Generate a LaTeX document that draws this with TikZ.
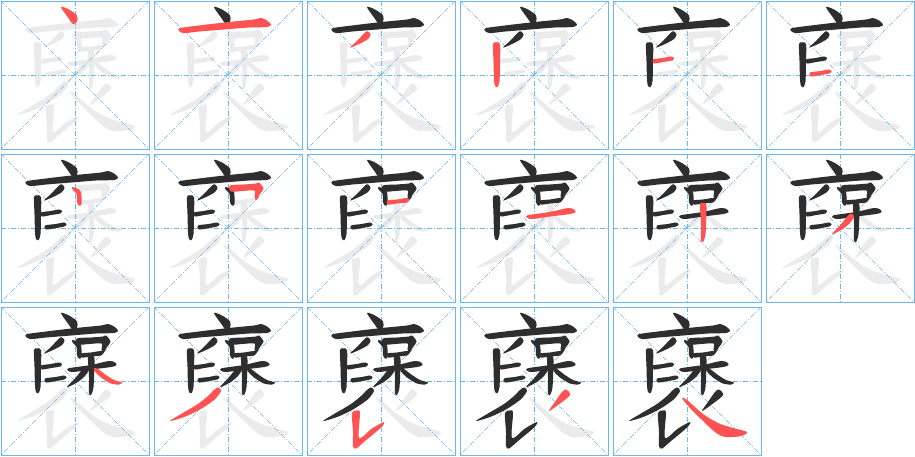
\documentclass[tikz,border=0pt]{standalone}

\definecolor{gridblue}{HTML}{6CB6F2}
\definecolor{inkgray}{HTML}{EBEBEB}
\definecolor{inkdone}{HTML}{2E2E2E}
\definecolor{inknow}{HTML}{FF5252}

\tikzset{
  cellbox/.style={draw=gridblue, line width=0.9pt},
  guideline/.style={draw=gridblue, line width=0.6pt, dash pattern=on 5pt off 2pt on 1pt off 2pt},
}

% one stroke of the character, in cell coordinates (px, y down)
\newcommand{\hanstroke}[2]{%
  \ifcase#1\or
  \fill[#2] plot[smooth cycle] coordinates {(60,6) (68,8.5) (76,14.5) (76,20.5) (72,23) (67,16.5)};\or
  \fill[#2] plot[smooth cycle] coordinates {(25,27.5) (45,24.5) (75,21) (100,18.5) (107,17) (113,19.5) (117,23.5) (113,26) (95,26.5) (70,28.5) (45,30.5) (29,32)};\or
  \fill[#2] plot[smooth cycle] coordinates {(58,31.5) (61,30.5) (63.5,33.5) (61,38) (52,43) (43,46.5) (50,40)};\or
  \fill[#2] plot[smooth cycle] coordinates {(33,43) (36,41.5) (40,43) (40,62) (39.5,80) (37.5,86) (35,85) (34,78) (33.5,60)};\or
  \fill[#2] plot[smooth cycle] coordinates {(40,58.5) (50,57) (58,55.5) (61,57) (59,59.5) (50,61) (41,62.5)};\or
  \fill[#2] plot[smooth cycle] coordinates {(44,71.5) (55,70) (63,68.5) (65.5,70.5) (63,72.5) (55,74) (45,75.5)};\or
  \fill[#2] plot[smooth cycle] coordinates {(71,33) (76,34.5) (80,38) (80.5,50) (78,51.5) (76,48) (75.5,40) (72,36)};\or
  \fill[#2] plot[smooth cycle] coordinates {(76,31.5) (90,30.5) (102,29.5) (105,28.5) (109.5,34.5) (106,40) (102,46.5) (100.5,42) (100.5,36.5) (88,37) (77,37.5)};\or
  \fill[#2] plot[smooth cycle] coordinates {(80,46.5) (90,45.5) (100,44) (102.5,45.5) (100,48.5) (90,49.5) (81,50.5)};\or
  \fill[#2] plot[smooth cycle] coordinates {(67,61.5) (90,58) (108,54) (114,55.5) (115.5,58) (110,60) (90,62.5) (71,65)};\or
  \fill[#2] plot[smooth cycle] coordinates {(87,50) (90,49) (93,49.5) (93.5,56) (92.5,80) (90,88) (88,86) (88,70)};\or
  \fill[#2] plot[smooth cycle] coordinates {(83,60.5) (86,60) (88,62.5) (84,69) (76,75.5) (66,80) (74,71.5)};\or
  \fill[#2] plot[smooth cycle] coordinates {(93,61) (97,62) (105,68) (113,73) (121,75.5) (118,77.5) (110,76.5) (100,70.5) (94,64.5)};\or
  \fill[#2] plot[smooth cycle] coordinates {(60,83) (64,80.5) (67,84) (60,93) (45,103) (30,110) (16,114) (28,106.5) (44,97) (54,89)};\or
  \fill[#2] plot[smooth cycle] coordinates {(45,106) (50,103.5) (53,106) (52,131) (65,121.5) (77,115) (74,120.5) (58,134) (49,141.5) (46,139) (46,125)};\or
  \fill[#2] plot[smooth cycle] coordinates {(102,85) (106,82.5) (110,88) (100,96.5) (89,104) (95,95)};\or
  \fill[#2] plot[smooth cycle] coordinates {(69,91) (74,93) (90,107) (105,116) (120,121) (134,125) (128,129) (112,130) (102,125) (88,112) (76,100)};\fi}

\begin{document}
\begin{tikzpicture}[x=1pt, y=-1pt]
\useasboundingbox (0,0) rectangle (915,456);
\fill[white] (0,0) rectangle (915,456);

\foreach \k in {1,...,17}{
  \pgfmathtruncatemacro{\col}{mod(\k-1,6)}
  \pgfmathtruncatemacro{\row}{(\k-1)/6}
  \begin{scope}[shift={(1+153*\col,1+153*\row)}]
    % whole character in grey first
    \foreach \s in {1,...,17}{\hanstroke{\s}{inkgray}}
    \draw[cellbox] (0,0) rectangle (148,148);
    \draw[guideline] (0,0) -- (148,148) (148,0) -- (0,148);
    \draw[guideline] (74,0) -- (74,148) (0,74) -- (148,74);
    % strokes written so far, the new one in red
    \foreach \s in {1,...,\k}{
      \ifnum\s<\k \def\ink{inkdone}\else\def\ink{inknow}\fi
      \hanstroke{\s}{\ink}
    }
  \end{scope}
}

\end{tikzpicture}
\end{document}
